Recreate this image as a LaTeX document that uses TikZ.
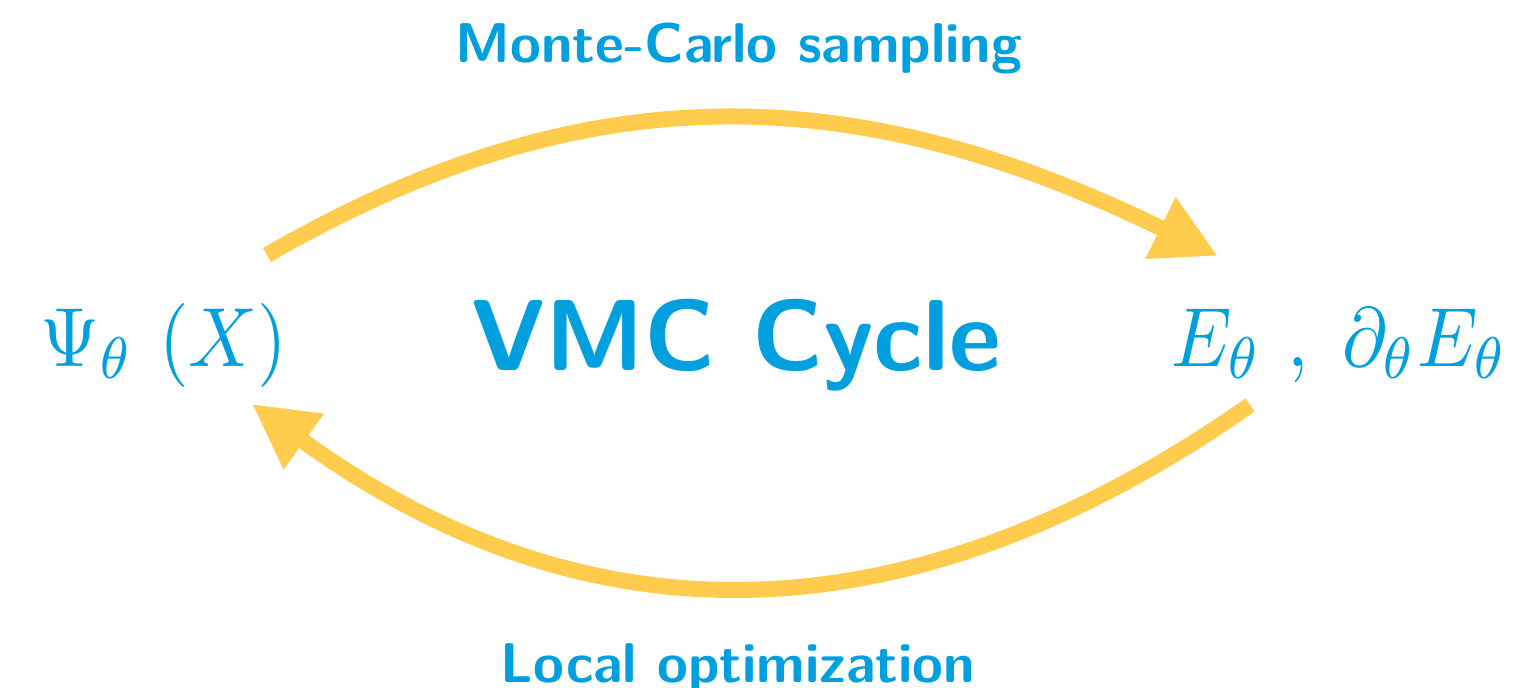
\documentclass[tikz,border=0pt]{standalone}
\usepackage{graphicx}
\usetikzlibrary{arrows.meta}
\definecolor{vblue}{RGB}{0,160,223}
\definecolor{vyellow}{RGB}{255,204,77}
\newcommand{\bigmath}[1]{\scalebox{3.8}[4.2]{\fontsize{10}{12}\selectfont$#1$}}
\tikzset{
  lbl/.style={text=vblue, inner sep=0pt, font=\fontsize{28}{34}\selectfont\sffamily\bfseries},
  ttl/.style={text=vblue, inner sep=0pt, font=\fontsize{50.5}{60}\selectfont\sffamily\bfseries},
  mth/.style={text=vblue, inner sep=0pt},
  cyc/.style={draw=vyellow, line width=8pt, -{Triangle[length=32pt,width=32pt]}}
}
\begin{document}
\begin{tikzpicture}[x=0.5pt,y=-0.5pt]
\useasboundingbox (0,0) rectangle (1522,687);
\node[lbl, anchor=base] (mc) at (739,62) {Monte-Carlo sampling};
\node[lbl, anchor=base] (lo) at (738,682) {Local optimization};
\node[ttl, anchor=base] (vmc) at (736,370) {VMC Cycle};
\node[mth, anchor=base west] (psi) at (40,366) {\bigmath{\Psi_\theta\ (X)}};
\node[mth, anchor=base east] (en) at (1508,366) {\bigmath{E_\theta\ ,\;\partial_\theta E_\theta}};
\coordinate (ts) at (267,255);
\coordinate (te) at (1218,256);
\coordinate (bs) at (1250,405);
\coordinate (be) at (252,404);
\draw[cyc] (ts) .. controls (600,62) and (872,87) .. (te);
\draw[cyc] (bs) .. controls (910,643) and (588,648) .. (be);
\end{tikzpicture}
\end{document}
